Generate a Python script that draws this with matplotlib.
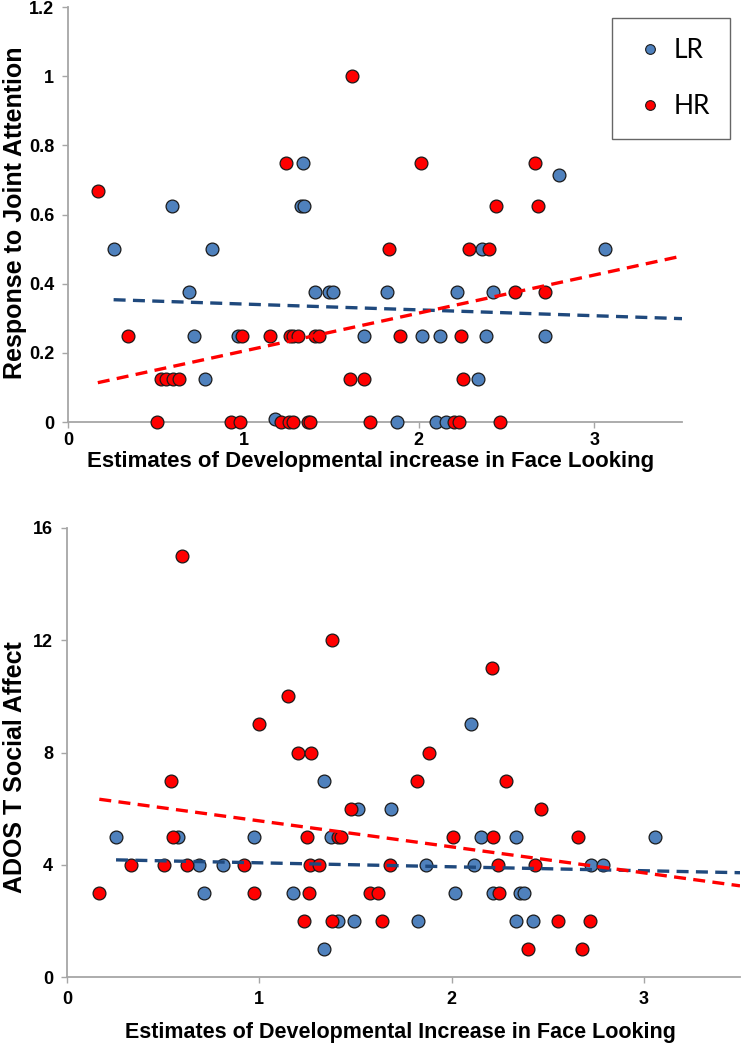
import numpy as np
import matplotlib
matplotlib.use("Agg")
import matplotlib.pyplot as plt
from matplotlib.lines import Line2D

# ---- top panel: response to joint attention (LR = low risk, HR = high risk)
lr_face_top = [0.26, 0.59, 0.82, 0.69, 0.72, 0.97, 0.78, 1.18, 1.34, 1.33, 1.345,
               1.41, 1.49, 1.51, 1.82, 2.22, 2.42, 1.69, 2.02, 2.12, 2.38, 2.72,
               2.335, 1.875, 2.10, 2.156, 2.36, 2.80, 3.06]
lr_rja = [0.5, 0.625, 0.5, 0.375, 0.25, 0.25, 0.125, 0.01, 0.75, 0.625, 0.625,
          0.375, 0.375, 0.375, 0.375, 0.375, 0.375, 0.25, 0.25, 0.25, 0.25, 0.25,
          0.125, 0, 0, 0, 0.5, 0.714, 0.5]

hr_face_top = [0.17, 1.24, 1.62, 2.01, 2.66, 2.44, 2.68, 1.83, 2.285, 2.40, 2.55, 2.72,
               0.34, 0.99, 1.15, 1.265, 1.285, 1.31, 1.41, 1.43, 1.89, 2.24,
               0.53, 0.56, 0.60, 0.63, 1.61, 1.69, 2.25,
               0.51, 0.93, 0.98, 1.215, 1.262, 1.285, 1.37, 1.38, 1.72, 2.20, 2.227, 2.46]
hr_rja = [0.667, 0.75, 1.0, 0.75, 0.75, 0.625, 0.625, 0.5, 0.5, 0.5, 0.375, 0.375,
          0.25, 0.25, 0.25, 0.25, 0.25, 0.25, 0.25, 0.25, 0.25, 0.25,
          0.125, 0.125, 0.125, 0.125, 0.125, 0.125, 0.125,
          0, 0, 0, 0, 0, 0, 0, 0, 0, 0, 0, 0]

# ---- bottom panel: ADOS T social affect
lr_face_bot = [0.255, 0.579, 0.975, 0.687, 0.813, 0.713, 1.177, 1.339, 1.512, 1.686,
               1.372, 2.152, 2.334, 1.868, 2.118, 2.019, 2.215, 2.357, 2.378,
               1.408, 1.495, 1.823, 2.334, 2.423, 1.334, 2.10, 3.056, 2.725, 2.79]
lr_ados = [5, 5, 5, 4, 4, 3, 3, 7, 6, 6,
           5, 5, 5, 4, 4, 3, 3, 3, 3,
           2, 2, 2, 2, 2, 1, 9, 5, 4, 4]

hr_face_bot = [0.60, 1.15, 1.0, 1.20, 1.27, 1.885, 1.38, 2.21, 0.54, 1.82, 2.283,
               1.478, 2.465, 0.553, 1.25, 1.408, 1.424, 2.005, 2.218, 2.66,
               0.333, 0.505, 0.623, 0.923, 1.264, 1.308, 1.68, 2.241, 2.435,
               0.168, 0.973, 1.26, 1.576, 1.616, 2.248,
               1.235, 1.38, 1.637, 2.551, 2.718, 2.40, 2.678]
hr_ados = [15, 10, 9, 8, 8, 8, 12, 11, 7, 7, 7,
           6, 6, 5, 5, 5, 5, 5, 5, 5,
           4, 4, 4, 4, 4, 4, 4, 4, 4,
           3, 3, 3, 3, 3, 3,
           2, 2, 2, 2, 2, 1, 1]

# linear trend lines as drawn in the figure: (intercept, slope)
lr_rja_fit = (0.358, -0.0169)
hr_rja_fit = (0.095, 0.110)
lr_ados_fit = (4.21, -0.141)
hr_ados_fit = (6.49, -0.926)

blue = '#4f81bd'
red = '#ff0000'
blue_line = '#1f497d'
edge = '#1a1a1a'
grey = '#a6a6a6'
bold_font = ['Liberation Sans', 'DejaVu Sans']

fig = plt.figure(figsize=(7.46, 10.5), dpi=100)
ax1 = fig.add_axes([68/746, 1-422/1050, 614/746, 415/1050])
ax2 = fig.add_axes([67/746, 1-977/1050, 673/746, 449/1050])


def style(ax):
    for s in ['top', 'right']:
        ax.spines[s].set_visible(False)
    for s in ['left', 'bottom']:
        ax.spines[s].set_color(grey)
        ax.spines[s].set_linewidth(1.3)
    ax.tick_params(colors=grey, length=4, width=1, direction='out', pad=6)
    for lab in ax.get_xticklabels() + ax.get_yticklabels():
        lab.set_color('black')
        lab.set_fontweight('bold')
        lab.set_fontsize(13)
        lab.set_family(bold_font)


def trend(ax, x, fit, color):
    icpt, slope = fit
    xs = np.array([min(x), 3.5])
    ax.plot(xs, icpt + slope*xs, color=color, lw=2.4, dashes=(3.6, 2.2), zorder=4)


# top panel
ax1.scatter(lr_face_top, lr_rja, s=85, c=blue, edgecolors=edge, linewidths=0.9, zorder=3, clip_on=False)
ax1.scatter(hr_face_top, hr_rja, s=85, c=red, edgecolors=edge, linewidths=0.9, zorder=3, clip_on=False)
trend(ax1, lr_face_top, lr_rja_fit, blue_line)
trend(ax1, hr_face_top, hr_rja_fit, red)
ax1.set_xlim(0, 3.5)
ax1.set_ylim(0, 1.2)
ax1.set_xticks([0, 1, 2, 3])
ax1.set_yticks([0, 0.2, 0.4, 0.6, 0.8, 1.0, 1.2])
ax1.set_yticklabels(['0', '0.2', '0.4', '0.6', '0.8', '1', '1.2'])
style(ax1)
ax1.tick_params(axis='x', pad=3)
ax1.set_xlabel('Estimates of Developmental increase in Face Looking',
               fontsize=16, fontweight='bold', family=bold_font)
ax1.xaxis.set_label_coords(0.492, -0.070)
ax1.set_ylabel('Response to Joint Attention', fontsize=18, fontweight='bold', family=bold_font)
ax1.yaxis.set_label_coords(-0.066, 0.504)

handles = [Line2D([], [], ls='none', marker='o', ms=7, mfc=blue, mec=edge, mew=0.8),
           Line2D([], [], ls='none', marker='o', ms=7, mfc=red, mec=edge, mew=0.8)]
leg = ax1.legend(handles, ['LR', 'HR'], loc='upper left',
                 bbox_to_anchor=(612/746, 1-18/1050), bbox_transform=fig.transFigure,
                 prop={'family': ['Lato', 'DejaVu Sans'], 'size': 19},
                 frameon=True, fancybox=False, borderpad=0.75, labelspacing=1.2,
                 handlelength=1.4, handletextpad=0.2, borderaxespad=0)
leg.get_frame().set_edgecolor('#404040')
leg.get_frame().set_linewidth(1.0)

# bottom panel
ax2.scatter(lr_face_bot, lr_ados, s=85, c=blue, edgecolors=edge, linewidths=0.9, zorder=3, clip_on=False)
ax2.scatter(hr_face_bot, hr_ados, s=85, c=red, edgecolors=edge, linewidths=0.9, zorder=3, clip_on=False)
trend(ax2, lr_face_bot, lr_ados_fit, blue_line)
trend(ax2, hr_face_bot, hr_ados_fit, red)
ax2.set_xlim(0, 3.5)
ax2.set_ylim(0, 16)
ax2.set_xticks([0, 1, 2, 3])
ax2.set_yticks([0, 4, 8, 12, 16])
style(ax2)
ax2.set_xlabel('Estimates of Developmental Increase in Face Looking',
               fontsize=15.5, fontweight='bold', family=bold_font)
ax2.xaxis.set_label_coords(0.495, -0.100)
ax2.set_ylabel('ADOS T Social Affect', fontsize=18, fontweight='bold', family=bold_font)
ax2.yaxis.set_label_coords(-0.059, 0.468)

fig.savefig('out.png', dpi=100)
